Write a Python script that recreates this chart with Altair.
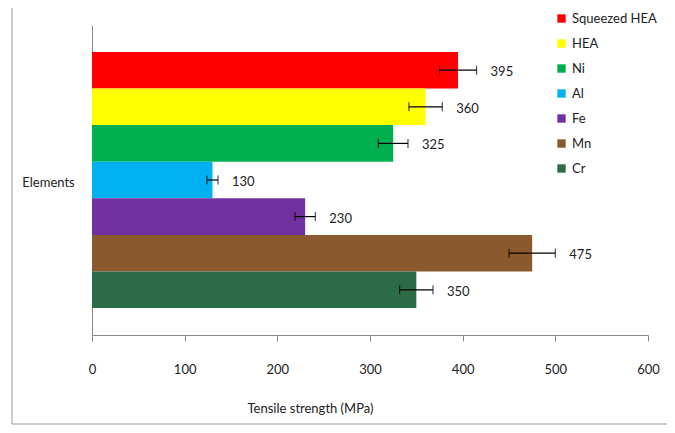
import altair as alt
import pandas as pd

elements = ["Squeezed HEA", "HEA", "Ni", "Al", "Fe", "Mn", "Cr"]
strength = [395, 360, 325, 130, 230, 475, 350]
errors = [20, 18, 16, 6, 11, 25, 18]
colors = ["#FF0000", "#FFFF00", "#00B050", "#00B0F0", "#7030A0", "#8A5A2E", "#2B6B45"]

df = pd.DataFrame({"element": elements, "value": strength, "err": errors})
df["lo"] = df["value"] - df["err"]
df["hi"] = df["value"] + df["err"]

FONT = "Lato"

y_enc = alt.Y("element:N", sort=elements,
              scale=alt.Scale(paddingInner=0, paddingOuter=0.735),
              axis=alt.Axis(title="Elements", labels=False, ticks=False,
                            titleAngle=0, titleAlign="center", titleBaseline="middle",
                            titleX=-44, titleY=157, titleFont=FONT, titleFontSize=13,
                            titleFontWeight="normal", titleColor="#222",
                            domainColor="#888"))

x_scale = alt.Scale(domain=[0, 600], nice=False)

frame = alt.Chart(pd.DataFrame({"f": [0]})).mark_rect(
    fill=None, stroke="#999", strokeWidth=1).encode(
    x=alt.value(-80), x2=alt.value(577), y=alt.value(-21), y2=alt.value(399))

bars = alt.Chart(df).mark_bar().encode(
    x=alt.X("value:Q", scale=x_scale,
            axis=alt.Axis(title="Tensile strength  (MPa)", values=[0, 100, 200, 300, 400, 500, 600],
                          grid=False, tickSize=6, tickColor="#888", domainColor="#888",
                          labelFlush=False,
                          labelPadding=22, labelFont=FONT, labelFontSize=13, labelColor="#222",
                          titleFont=FONT, titleFontSize=13, titleFontWeight="normal",
                          titleColor="#222", titleX=218, titleY=73, titleBaseline="middle")),
    y=y_enc,
    color=alt.Color("element:N", sort=elements,
                    scale=alt.Scale(domain=elements, range=colors),
                    legend=alt.Legend(title=None, orient="none", legendX=463, legendY=-13,
                                      symbolType="square", symbolSize=70, symbolStrokeWidth=0,
                                      labelFont=FONT, labelFontSize=13, labelColor="#222",
                                      rowPadding=11, labelOffset=4)),
)

rule = alt.Chart(df).mark_rule(color="black", strokeWidth=1.2).encode(
    x=alt.X("lo:Q", scale=x_scale), x2="hi:Q", y=alt.Y("element:N", sort=elements))

caps_lo = alt.Chart(df).mark_tick(color="black", orient="vertical", size=9, thickness=1.2).encode(
    x=alt.X("lo:Q", scale=x_scale), y=alt.Y("element:N", sort=elements))
caps_hi = alt.Chart(df).mark_tick(color="black", orient="vertical", size=9, thickness=1.2).encode(
    x=alt.X("hi:Q", scale=x_scale), y=alt.Y("element:N", sort=elements))

labels = alt.Chart(df).mark_text(align="left", baseline="middle", dx=14, dy=2,
                                 font=FONT, fontSize=13, color="#222").encode(
    x=alt.X("hi:Q", scale=x_scale), y=alt.Y("element:N", sort=elements),
    text="value:Q")

chart = alt.layer(frame, bars, rule, caps_lo, caps_hi, labels).properties(
    width=556, height=310,
    autosize=alt.AutoSizeParams(type="none"),
    padding={"left": 84, "top": 17, "right": 19, "bottom": 90},
    background="white",
).configure_view(stroke=None)

chart.save("out.html", embed_options={"renderer": "svg", "actions": False})
